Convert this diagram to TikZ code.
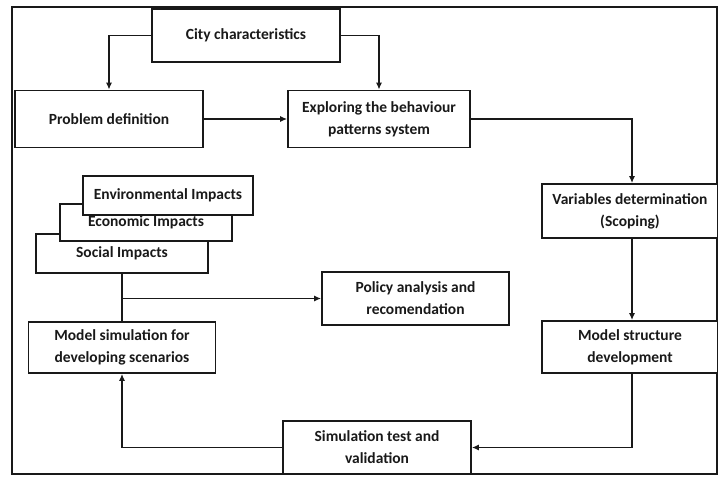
\documentclass[tikz,border=0pt]{standalone}
\usepackage{fontspec}
\setmainfont{Carlito}
\usetikzlibrary{arrows.meta}
\begin{document}
\begin{tikzpicture}[x=1pt,y=-1pt,
  box/.style={draw=black!90, line width=1.7pt, fill=white, align=center, inner sep=0pt,
    text=black!90, font=\bfseries\fontsize{15.5}{22}\selectfont},
  cline/.style={draw=black!90, line width=1.5pt},
  conn/.style={cline, -{Latex[length=7pt,width=6pt]}},
]
\useasboundingbox (0,0) rectangle (718,479);
\draw[cline] (12,7) rectangle (717,474);
\draw[draw=black!90, line width=2.8pt] (12,7) -- (717,7);

\node[box, minimum width=188pt, minimum height=53pt] (city) at (246,35.5) {City characteristics};
\node[box, minimum width=188pt, minimum height=57pt] (prob) at (109,119) {Problem definition};
\node[box, minimum width=182pt, minimum height=57pt] (expl) at (379,119) {Exploring the behaviour\\patterns system};
\node[box, minimum width=176pt, minimum height=54pt] (var) at (630,211) {Variables determination\\(Scoping)};
\node[box, minimum width=176pt, minimum height=52pt] (mstr) at (630,347) {Model structure\\development};
\node[box, minimum width=188pt, minimum height=53pt] (sim) at (377,447.5) {Simulation test and\\validation};
\node[box, minimum width=187pt, minimum height=51pt] (msim) at (122,347.5) {Model simulation for\\developing scenarios};
\node[box, minimum width=187pt, minimum height=53pt] (pol) at (415.5,298.5) {Policy analysis and\\recomendation};
\node[box, minimum width=172pt, minimum height=39pt] (soc) at (122,253.5) {Social Impacts};
\node[box, minimum width=172pt, minimum height=37pt] (eco) at (146,222.5) {Economic Impacts};
\node[box, minimum width=170pt, minimum height=39pt] (env) at (168,195.5) {Environmental Impacts};

\draw[conn] (city.west) -| (prob.north);
\draw[conn] (city.east) -| (expl.north);
\draw[conn] (prob.east) -- (expl.west);
\draw[conn] (expl.east) -| ([xshift=2pt]var.north);
\draw[conn] ([xshift=2pt]var.south) -- ([xshift=2pt]mstr.north);
\draw[conn] ([xshift=2pt]mstr.south) |- (sim.east);
\draw[conn] (sim.west) -| (msim.south);
\draw[cline] (soc.south) -- (msim.north);
\coordinate (br) at (122,298.5);
\draw[conn] (br) -- (pol.west);
\end{tikzpicture}
\end{document}
